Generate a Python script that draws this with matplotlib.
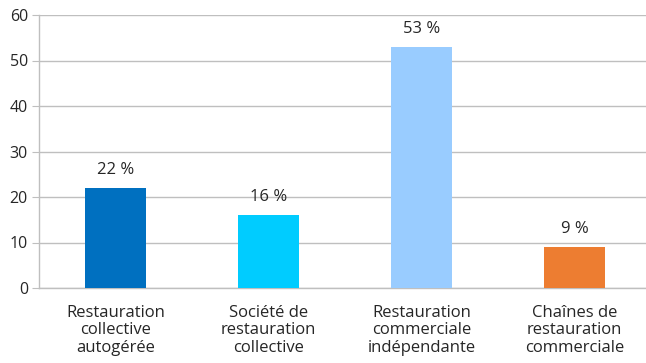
import matplotlib
matplotlib.use("Agg")
import matplotlib.pyplot as plt

# data
categories = [
    "Restauration\ncollective\nautogérée",
    "Société de\nrestauration\ncollective",
    "Restauration\ncommerciale\nindépendante",
    "Chaînes de\nrestauration\ncommerciale",
]
values = [22, 16, 53, 9]
labels = ["22 %", "16 %", "53 %", "9 %"]
colors = ["#0070C0", "#00CCFF", "#99CCFF", "#ED7D31"]

plt.rcParams["font.family"] = ["Open Sans", "DejaVu Sans"]
TEXT = "#262626"
GRID = "#BFBFBF"

fig = plt.figure(figsize=(6.46, 3.63), dpi=100)
ax = fig.add_axes([39 / 646, 75 / 363, 612 / 646, 273 / 363])

x = range(len(categories))
bars = ax.bar(x, values, width=0.405, color=colors, zorder=3)

for b, lab in zip(bars, labels):
    ax.annotate(lab, (b.get_x() + b.get_width() / 2, b.get_height()),
                xytext=(0, 7), textcoords="offset points",
                ha="center", va="bottom", fontsize=12, color=TEXT)

ax.set_xlim(-0.5, len(categories) - 0.5)
ax.set_ylim(0, 60)
ax.set_yticks(range(0, 61, 10))
ax.yaxis.grid(True, color=GRID, lw=1, zorder=0)
ax.set_xticks(list(x))
ax.set_xticklabels(categories, fontsize=12, color=TEXT, linespacing=1.12)
ax.tick_params(axis="x", length=0, pad=12)
ax.tick_params(axis="y", length=5, color=GRID, labelsize=11.5, labelcolor=TEXT, pad=3)

for s in ["top", "right"]:
    ax.spines[s].set_visible(False)
for s in ["left", "bottom"]:
    ax.spines[s].set_color(GRID)
    ax.spines[s].set_linewidth(1)

fig.savefig("out.png", dpi=100)
